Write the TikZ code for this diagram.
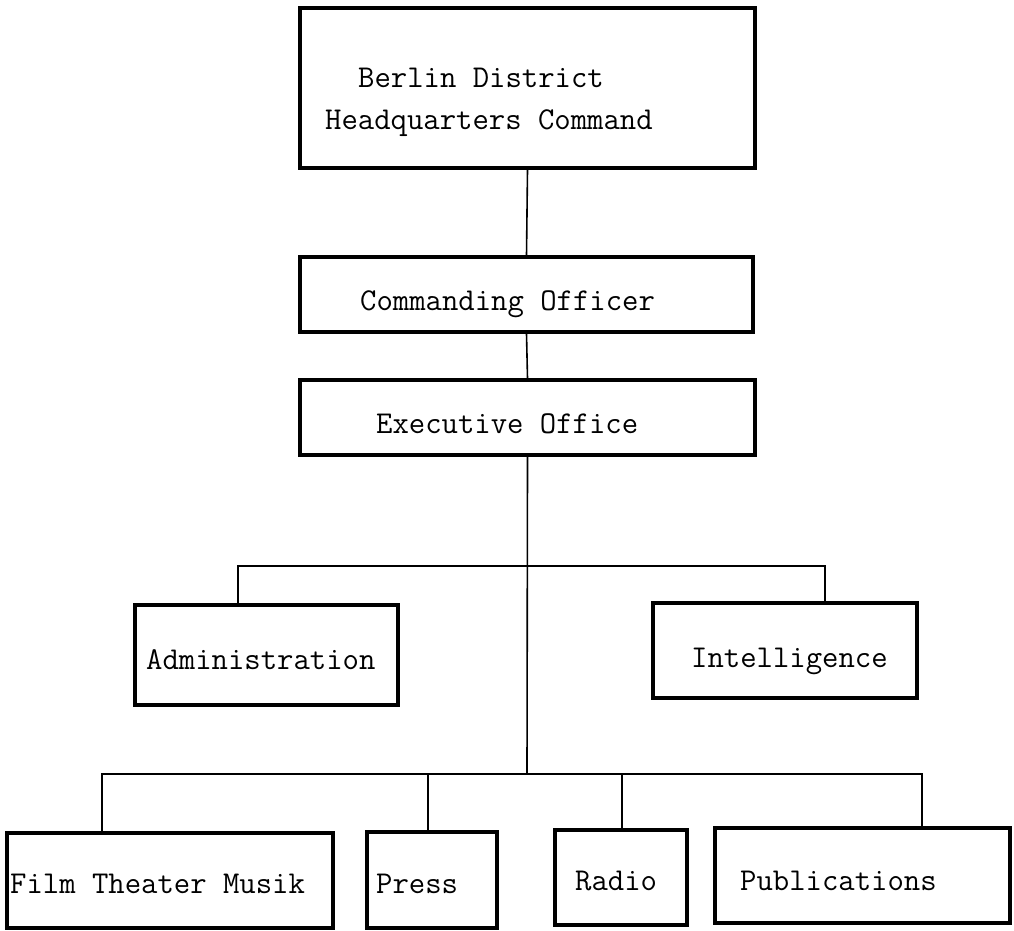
\documentclass[tikz,border=0pt]{standalone}
\begin{document}
\begin{tikzpicture}[x=1pt,y=-1pt,
  box/.style={draw, line width=3.2pt, inner sep=0pt, fill=none},
  lbl/.style={anchor=base west, inner sep=0pt, font=\fontsize{31.8}{36}\selectfont\ttfamily},
  conn/.style={line width=1.6pt}]
\useasboundingbox (0,0) rectangle (1014,930);
% boxes
\node[box, minimum width=455, minimum height=160] (hq) at (527.5,88) {};
\node[box, minimum width=453, minimum height=75] (co) at (526.5,294.5) {};
\node[box, minimum width=455, minimum height=75] (eo) at (527.5,417.5) {};
\node[box, minimum width=263, minimum height=100] (adm) at (266.5,655) {};
\node[box, minimum width=264, minimum height=95] (int) at (785,650.5) {};
\node[box, minimum width=326, minimum height=95] (film) at (170,880.5) {};
\node[box, minimum width=130, minimum height=96] (press) at (432,880) {};
\node[box, minimum width=132, minimum height=95] (radio) at (621,877.5) {};
\node[box, minimum width=295, minimum height=95] (pub) at (862.5,875.5) {};
% texts
\node[lbl] (t1) at (358,87) {Berlin District};
\node[lbl] (t2) at (325,129) {Headquarters Command};
\node[lbl] (t3) at (360,310) {Commanding Officer};
\node[lbl] (t4) at (376,433) {Executive Office};
\node[lbl] (t5) at (146,669) {Administration};
\node[lbl] (t6) at (691,667) {Intelligence};
\node[lbl] (t7) at (10,893) {Film Theater Musik};
\node[lbl] (t8) at (376,893) {Press};
\node[lbl] (t9) at (575,890) {Radio};
\node[lbl] (t10) at (740,890) {Publications};
% junctions
\coordinate (j1) at (527,566);
\coordinate (j2) at (527,774);
\coordinate (a1) at (238,566);
\coordinate (i1) at (825,566);
\coordinate (f1) at (102,774);
\coordinate (p1) at (428,774);
\coordinate (r1) at (622,774);
\coordinate (u1) at (922,774);
% connectors
\draw[conn] (hq.south) -- (co.north);
\draw[conn] (co.south) -- (eo.north);
\draw[conn] (eo.south) -- (j2);
\draw[conn] (a1 |- adm.north) -- (a1) -- (i1) -- (i1 |- int.north);
\draw[conn] (f1 |- film.north) -- (f1) -- (p1) -- (r1) -- (u1) -- (u1 |- pub.north);
\draw[conn] (p1) -- (p1 |- press.north);
\draw[conn] (r1) -- (r1 |- radio.north);
\end{tikzpicture}
\end{document}
